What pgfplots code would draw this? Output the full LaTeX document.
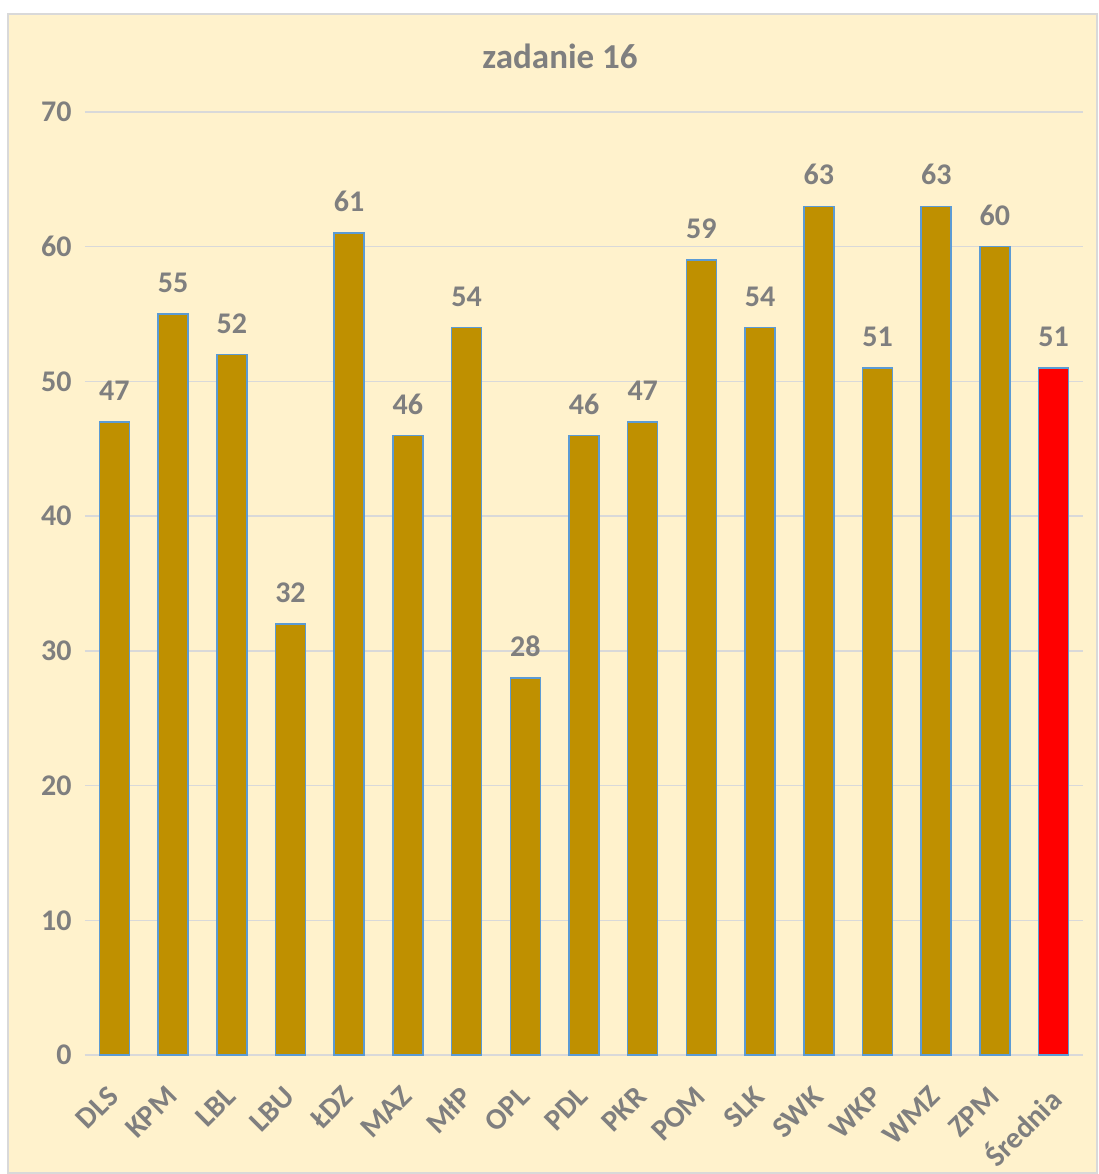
\documentclass[border=0pt]{standalone}
\usepackage{pgfplots}
\pgfplotsset{compat=1.18}
\usepackage{fontspec}
\setmainfont{Carlito}
\definecolor{bgc}{HTML}{FFF2CC}
\definecolor{barc}{HTML}{BF9000}
\definecolor{edgec}{HTML}{5B9BD5}
\definecolor{txtc}{HTML}{7F7F7F}
\definecolor{gridc}{HTML}{D9D9D9}
\begin{document}
\begin{tikzpicture}[x=1pt,y=1pt]
\fill[white] (-85,-119) rectangle (1013,1055);
\filldraw[fill=bgc, draw=gridc, line width=1.5pt] (-77,-118) rectangle (1012,1041);
\node[text=txtc, font=\fontsize{35}{40}\selectfont\bfseries] at (475,999) {zadanie 16};
\begin{axis}[
  at={(0,0)}, anchor=south west,
  scale only axis, width=998pt, height=943pt,
  xmin=-0.5, xmax=16.5, ymin=0, ymax=70,
  ytick={0,10,...,70},
  xtick={0,1,...,16},
  xticklabels={DLS,KPM,LBL,LBU,ŁDZ,MAZ,MłP,OPL,PDL,PKR,POM,SLK,SWK,WKP,WMZ,ZPM,Średnia},
  x tick label style={xshift=-8pt, yshift=-28pt, rotate=45, anchor=north east, inner sep=1pt},
  tick label style={text=txtc, font=\fontsize{30}{34}\selectfont\bfseries},
  /pgf/number format/assume math mode=true,
  y tick label style={xshift=-10pt},
  ymajorgrids, grid style={gridc, line width=1.5pt},
  axis line style={draw=none},
  axis x line*=bottom,
  x axis line style={draw=gridc, line width=1.5pt},
  major tick length=0pt,
  ybar, bar width=30pt,
  nodes near coords,
  every node near coord/.append style={text=txtc, font=\fontsize{30}{34}\selectfont\bfseries, yshift=17pt},
  clip=false,
]
\addplot[fill=barc, draw=edgec, line width=1.5pt, bar shift=0pt] coordinates {
(0,47) (1,55) (2,52) (3,32) (4,61) (5,46) (6,54) (7,28) (8,46) (9,47) (10,59) (11,54) (12,63) (13,51) (14,63) (15,60)};
\addplot[fill=red, draw=edgec, line width=1.5pt, bar shift=0pt] coordinates {(16,51)};
\end{axis}
\end{tikzpicture}
\end{document}
